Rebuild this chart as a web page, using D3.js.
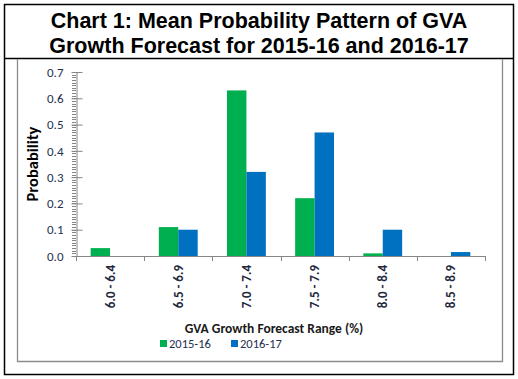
<!DOCTYPE html>
<html>
<head>
<meta charset="utf-8">
<script src="https://cdn.jsdelivr.net/npm/d3@7"></script>
<style>
  body { margin: 0; background: #fff; }
  svg { display: block; }
  .cal { font-family: Carlito, Calibri, Lato, "Open Sans", sans-serif; }
</style>
</head>
<body>
<svg id="chart"></svg>
<script>
// data
const categories = ["6.0 - 6.4", "6.5 - 6.9", "7.0 - 7.4", "7.5 - 7.9", "8.0 - 8.4", "8.5 - 8.9"];
const seriesNames = ["2015-16", "2016-17"];
const values2015 = [0.03, 0.11, 0.63, 0.22, 0.01, 0];
const values2016 = [0, 0.10, 0.32, 0.47, 0.10, 0.015];
const yTicks = [0, 0.1, 0.2, 0.3, 0.4, 0.5, 0.6, 0.7];
const colors = ["#00B050", "#0070C0"];

const width = 518, height = 379;
const svg = d3.select("#chart").attr("width", width).attr("height", height);

// outer frame + title box
svg.append("rect").attr("x", 4.5).attr("y", 4.5).attr("width", 509).attr("height", 370)
  .attr("fill", "none").attr("stroke", "#000").attr("stroke-width", 1.5);
svg.append("line").attr("x1", 4).attr("x2", 514).attr("y1", 58.5).attr("y2", 58.5)
  .attr("stroke", "#000").attr("stroke-width", 1.5);
// inner chart area frame (gray)
svg.append("path").attr("d", "M17.5,59 V361.5 H502.5 V59")
  .attr("fill", "none").attr("stroke", "#8c8c8c").attr("stroke-width", 1.3);

const title = svg.append("text").attr("text-anchor", "middle")
  .attr("font-family", "Arial, 'Liberation Sans', sans-serif")
  .attr("font-weight", "bold").attr("font-size", 21.5).attr("fill", "#000");
title.append("tspan").attr("x", 259).attr("y", 28).text("Chart 1: Mean Probability Pattern of GVA");
title.append("tspan").attr("x", 259).attr("y", 53).text("Growth Forecast for 2015-16 and 2016-17");

const plotLeft = 76, plotRight = 485, plotTop = 72, plotBottom = 256;

const x = d3.scaleBand().domain(categories).range([plotLeft, plotRight])
  .paddingInner(0.43).paddingOuter(0.215);
const xSub = d3.scaleBand().domain(seriesNames).range([0, x.bandwidth()]);
const y = d3.scaleLinear().domain([0, 0.7]).range([plotBottom, plotTop]);
const xEdge = d3.scaleLinear().domain([0, categories.length]).range([plotLeft, plotRight]);

const axisColor = "#868686";

// bars
const series = [values2015, values2016];
series.forEach((vals, si) => {
  svg.append("g").selectAll("rect").data(vals).join("rect")
    .attr("x", (d, i) => x(categories[i]) + xSub(seriesNames[si]))
    .attr("width", xSub.bandwidth())
    .attr("y", d => y(d))
    .attr("height", d => plotBottom - y(d))
    .attr("fill", colors[si]);
});

// y axis: minor ticks every 0.01
const minor = d3.range(0, 71).map(d => d / 100);
svg.append("g").selectAll("line").data(minor).join("line")
  .attr("x1", plotLeft - 4).attr("x2", plotLeft)
  .attr("y1", d => Math.round(y(d)) + 0.5).attr("y2", d => Math.round(y(d)) + 0.5)
  .attr("stroke", axisColor).attr("stroke-width", 1);

const yAxis = svg.append("g").attr("transform", `translate(${plotLeft + 0.5},0)`)
  .call(d3.axisLeft(y).tickValues(yTicks).tickFormat(d3.format(".1f")).tickSizeInner(5).tickSizeOuter(0).tickPadding(8));
yAxis.select(".domain").attr("stroke", axisColor);
yAxis.selectAll(".tick line").attr("x2", 6).attr("x1", -5).attr("stroke", axisColor);
yAxis.selectAll(".tick text").attr("class", "cal").attr("font-size", 13).attr("fill", "#1f3050");

// x axis line + boundary ticks
svg.append("line").attr("x1", plotLeft).attr("x2", plotRight).attr("y1", plotBottom + 0.5).attr("y2", plotBottom + 0.5)
  .attr("stroke", axisColor);
svg.append("g").selectAll("line").data(d3.range(0, categories.length + 1)).join("line")
  .attr("x1", d => Math.round(xEdge(d)) + 0.5).attr("x2", d => Math.round(xEdge(d)) + 0.5)
  .attr("y1", plotBottom).attr("y2", plotBottom + 5).attr("stroke", axisColor);

// rotated category labels
svg.append("g").selectAll("text").data(categories).join("text")
  .attr("class", "cal")
  .attr("transform", d => `translate(${x(d) + x.bandwidth() / 2 + 4.5},${plotBottom + 9}) rotate(-90)`)
  .attr("text-anchor", "end").attr("font-size", 13).attr("font-weight", "bold")
  .attr("fill", "#1f2a40").text(d => d);

// axis titles
svg.append("text").attr("class", "cal")
  .attr("transform", `translate(38,${(plotTop + plotBottom) / 2}) rotate(-90)`)
  .attr("text-anchor", "middle").attr("font-size", 16.5).attr("font-weight", "bold")
  .attr("fill", "#000").text("Probability");
svg.append("text").attr("class", "cal").attr("x", 274).attr("y", 333)
  .attr("text-anchor", "middle").attr("font-size", 13.5).attr("font-weight", "bold")
  .attr("fill", "#1a1a1a").text("GVA Growth Forecast Range (%)");

// legend
const legendX = [160, 231];
const lg = svg.append("g").selectAll("g").data(seriesNames).join("g")
  .attr("transform", (d, i) => `translate(${legendX[i]},340)`);
lg.append("rect").attr("width", 7).attr("height", 7).attr("fill", (d, i) => colors[i]);
lg.append("text").attr("class", "cal").attr("x", 9).attr("y", 8)
  .attr("font-size", 12.5).attr("fill", "#1f3050").text(d => d);
</script>
</body>
</html>
